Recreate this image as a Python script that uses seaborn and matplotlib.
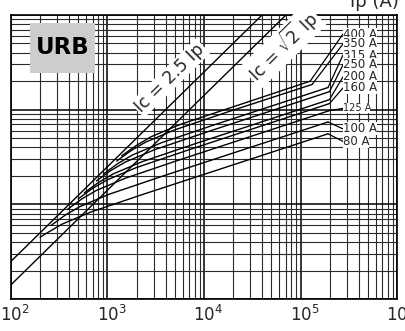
import matplotlib
matplotlib.use("Agg")
import matplotlib.pyplot as plt
import seaborn as sns
import pandas as pd
from matplotlib.ticker import LogLocator, NullFormatter, FixedLocator, FixedFormatter
from matplotlib.transforms import ScaledTranslation
from matplotlib.patches import Rectangle

# ---------------- data ----------------
ratings = ["400 A", "350 A", "315 A", "250 A", "200 A", "160 A", "125 A", "100 A", "80 A"]

ip_400 = [1400, 2000, 2800, 5600, 20000, 126000]
ic_400 = [3250, 4200, 5150, 6950, 10700, 20000]
ip_350 = [1245, 1758, 2483, 4955, 17580, 131800]
ic_350 = [2864, 3698, 4539, 6109, 9462, 18450]
ip_315 = [912, 1288, 1820, 3631, 12880, 192800]
ic_315 = [2099, 2710, 3327, 4477, 6934, 17140]
ip_250 = [767, 1084, 1531, 3055, 10840, 199500]
ic_250 = [1766, 2280, 2799, 3767, 5834, 15490]
ip_200 = [575, 813, 1148, 2291, 8128, 199500]
ic_200 = [1324, 1710, 2099, 2825, 4375, 12760]
ip_160 = [497, 701, 991, 1977, 7015, 199500]
ic_160 = [1143, 1476, 1811, 2438, 3776, 11590]
ip_125 = [385, 543, 767, 1531, 5433, 199500]
ic_125 = [885, 1143, 1403, 1888, 2924, 9772]
ip_100 = [260, 367, 519, 1035, 3673, 192800]
ic_100 = [598, 773, 948, 1276, 1977, 7413]
ip_80 = [200, 239, 337, 673, 2388, 192800]
ic_80 = [450, 502, 617, 830, 1285, 5559]

ip_ref = [100, 1000000]
ic_25 = [250, 2500000]          # Ic = 2.5 Ip
ic_sqrt2 = [141.4, 1414000]     # Ic = sqrt(2) Ip

xtick_vals = [1e2, 1e3, 1e4, 1e5, 1e6]
xtick_labels = [r"$10^{2}$", r"$10^{3}$", r"$10^{4}$", r"$10^{5}$", r"$10^{6}$"]

# label placement (axes fraction) for the rating labels
label_y = [0.933, 0.898, 0.859, 0.824, 0.782, 0.743, 0.671, 0.599, 0.555]
label_size = [8.5, 8.5, 8.5, 8.5, 8.5, 8.5, 7, 8.5, 8.5]

curves_ip = [ip_400, ip_350, ip_315, ip_250, ip_200, ip_160, ip_125, ip_100, ip_80]
curves_ic = [ic_400, ic_350, ic_315, ic_250, ic_200, ic_160, ic_125, ic_100, ic_80]

rows = []
for r, xs, ys in zip(ratings, curves_ip, curves_ic):
    for x, y in zip(xs, ys):
        rows.append({"rating": r, "Ip": x, "Ic": y})
df = pd.DataFrame(rows)

ref_df = pd.DataFrame({
    "Ip": ip_ref + ip_ref,
    "Ic": ic_25 + ic_sqrt2,
    "line": ["2.5"] * 2 + ["sqrt2"] * 2,
})

# ---------------- figure ----------------
sns.set_style("white")
plt.rcParams["font.family"] = ["DejaVu Sans"]

fig = plt.figure(figsize=(4.06, 3.31), dpi=100)
ax = fig.add_axes([11 / 406, (331 - 299) / 331, 386 / 406, 284 / 331])
ax.set_xscale("log")
ax.set_yscale("log")
ax.set_xlim(1e2, 1e6)
ax.set_ylim(1e2, 1e5)

# grid
ax.xaxis.set_minor_locator(LogLocator(base=10, subs=range(2, 10)))
ax.yaxis.set_minor_locator(LogLocator(base=10, subs=range(2, 10)))
ax.xaxis.set_minor_formatter(NullFormatter())
ax.yaxis.set_minor_formatter(NullFormatter())
ax.grid(True, which="major", color="black", lw=1.1, zorder=0)
ax.grid(True, which="minor", color="#2a2a2a", lw=0.8, zorder=0)
ax.set_axisbelow(True)

sns.lineplot(data=ref_df, x="Ip", y="Ic", units="line", estimator=None,
             color="black", lw=1.0, legend=False, ax=ax, sort=False)
sns.lineplot(data=df, x="Ip", y="Ic", units="rating", estimator=None,
             color="black", lw=1.0, legend=False, ax=ax, sort=False)

ax.set_xlabel("")
ax.set_ylabel("")
ax.xaxis.set_major_locator(FixedLocator(xtick_vals))
ax.xaxis.set_major_formatter(FixedFormatter(xtick_labels))
ax.set_yticklabels([])
ax.tick_params(axis="both", which="both", length=0)
ax.tick_params(axis="x", pad=4, labelsize=12)
for lab in ax.get_xticklabels():
    lab.set_transform(lab.get_transform() + ScaledTranslation(4 / 100, 0, fig.dpi_scale_trans))

for sp in ax.spines.values():
    sp.set_visible(True)
    sp.set_color("black")
    sp.set_linewidth(1.2)

# URB box
ax.add_patch(Rectangle((0.049, 0.796), 0.169, 0.176, transform=ax.transAxes,
                       facecolor="#cdcdcd", edgecolor="none", zorder=3))
ax.text(0.133, 0.884, "URB", transform=ax.transAxes, ha="center", va="center",
        fontsize=16.5, fontweight="bold", color="black", zorder=4)

# line labels
bb = dict(facecolor="white", edgecolor="none", pad=1.0)
ax.text(0.412, 0.778, "Ic = 2.5 Ip", transform=ax.transAxes, rotation=44.5,
        ha="center", va="center", fontsize=12.5, bbox=bb, zorder=4)
ax.text(0.705, 0.891, r"Ic = $\sqrt{2}$ Ip", transform=ax.transAxes, rotation=44.5,
        ha="center", va="center", fontsize=12.5, bbox=bb, zorder=4)

# rating labels with leader lines
for r, xs, ys, yl, fs in zip(ratings, curves_ip, curves_ic, label_y, label_size):
    ax.annotate(r, xy=(xs[-1], ys[-1]), xycoords="data",
                xytext=(0.86, yl), textcoords="axes fraction",
                ha="left", va="center", fontsize=fs, zorder=5,
                bbox=dict(facecolor="white", edgecolor="none", pad=0.0),
                arrowprops=dict(arrowstyle="-", lw=0.9, color="black",
                                shrinkA=0, shrinkB=0, relpos=(0, 0.5)))

fig.text(374 / 406, 1 - 7 / 331, "Ip (A)", ha="center", va="baseline", fontsize=13)

fig.savefig("out.png", dpi=100)
